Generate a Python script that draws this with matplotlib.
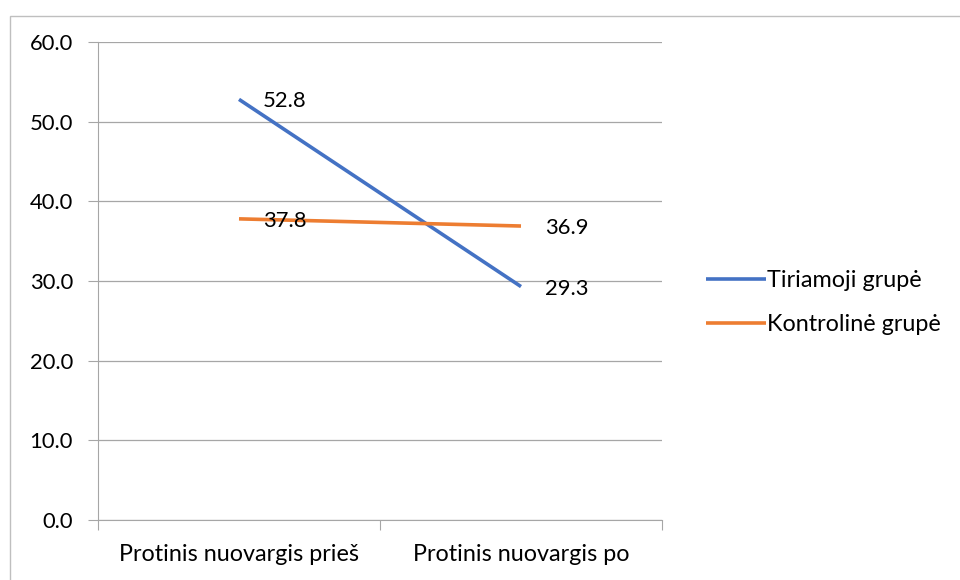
import matplotlib.pyplot as plt
from matplotlib.patches import Rectangle

plt.rcParams['font.family'] = ['Lato', 'DejaVu Sans']

kategorijos = ['Protinis nuovargis prieš', 'Protinis nuovargis po']
tiriamoji = [52.8, 29.3]
kontroline = [37.8, 36.9]
serijos = ['Tiriamoji grupė', 'Kontrolinė grupė']
spalvos = ['#4472C4', '#ED7D31']

fs = 15.8
fs_txt = 16.8

fig = plt.figure(figsize=(9.6, 5.8), dpi=100)
fig.patches.append(Rectangle((10 / 960, -0.01), 1.0, 1 - 10 / 580, transform=fig.transFigure,
                             fill=False, edgecolor='#BFBFBF', linewidth=1))
ax = fig.add_axes([98 / 960, 60 / 580, 564 / 960, 478 / 580])

x = range(len(kategorijos))
for vals, name, c in zip([tiriamoji, kontroline], serijos, spalvos):
    ax.plot(x, vals, color=c, linewidth=2.6, label=name, solid_capstyle='butt')
    for xi, v in zip(x, vals):
        ax.annotate(f'{v:.1f}', (xi, v), xytext=(17, -1.5), textcoords='offset points',
                    ha='left', va='center', fontsize=fs)

ax.set_xlim(-0.5, 1.5)
ax.set_ylim(0, 60)
ax.set_yticks(range(0, 61, 10))
ax.set_yticklabels([f'{v:.1f}' for v in range(0, 61, 10)], fontsize=fs)
ax.set_xticks([-0.5, 0.5, 1.5], minor=False)
ax.set_xticklabels([])
ax.set_xticks([0, 1], minor=True)
ax.set_xticklabels(kategorijos, minor=True, fontsize=fs_txt)
ax.tick_params(axis='x', which='major', length=7, color='#A6A6A6', direction='out')
ax.tick_params(axis='x', which='minor', length=0, pad=17)
ax.tick_params(axis='y', length=7, color='#A6A6A6', pad=11)
ax.grid(axis='y', color='#A6A6A6', linewidth=0.9)
ax.set_axisbelow(True)
for s in ['top', 'right']:
    ax.spines[s].set_visible(False)
for s in ['left', 'bottom']:
    ax.spines[s].set_color('#A6A6A6')

ax.legend(loc='center left', bbox_to_anchor=(1.04, 0.455), frameon=False, fontsize=fs_txt,
          handlelength=2.6, handletextpad=0.05, labelspacing=1.0)

fig.savefig('out.png', dpi=100)
